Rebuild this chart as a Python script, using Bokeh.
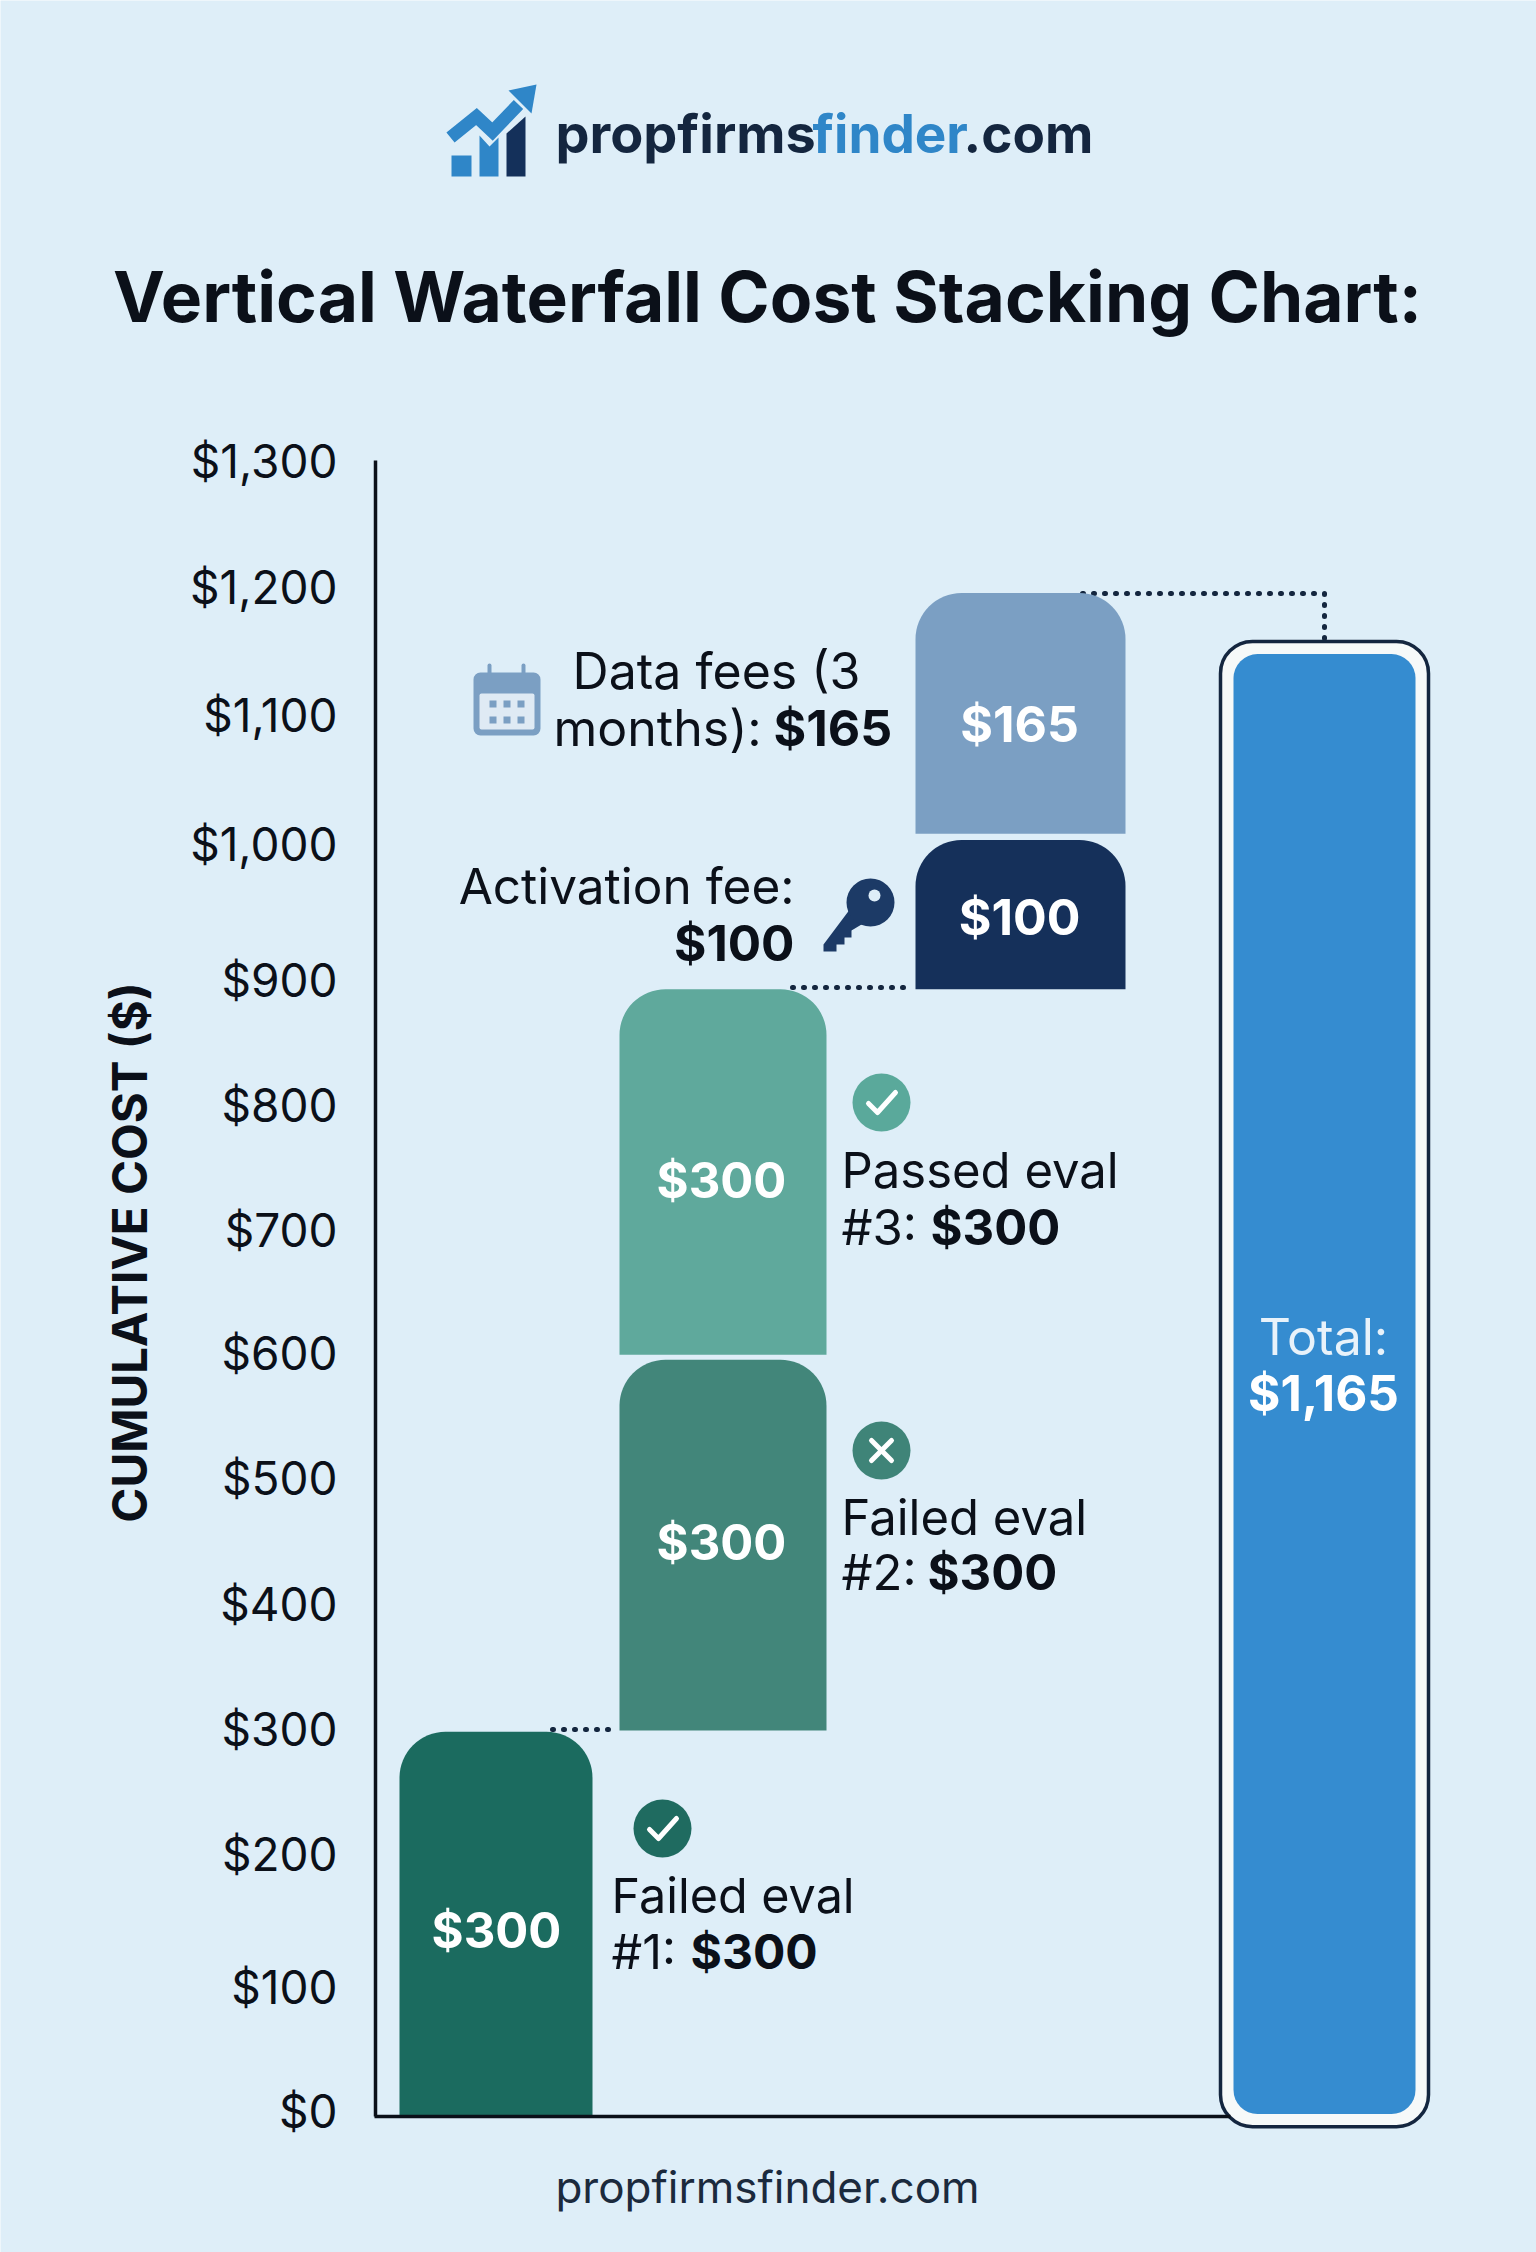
from bokeh.plotting import figure
from bokeh.embed import file_html
from bokeh.resources import INLINE
from bokeh.core.properties import value
from bokeh.models import Range1d, FixedTicker

# ---------- data ----------
categories = ["Failed eval #1", "Failed eval #2", "Passed eval #3", "Activation fee", "Data fees (3 months)"]
costs = [300, 300, 300, 100, 165]
bar_bottoms = [0, 303, 598, 885, 1007]
bar_tops = [302, 594, 885, 1002, 1196]
total_cost = 1165
total_inner = [2, 1148]
total_outer = [-8, 1158]
# the picture's tick labels are not evenly spaced: these are where each one sits on the scale
tick_values = [4, 102, 206, 304, 402, 501, 599, 696, 794, 892, 999, 1100, 1201, 1300]
tick_labels = ["$0", "$100", "$200", "$300", "$400", "$500", "$600", "$700", "$800", "$900",
               "$1,000", "$1,100", "$1,200", "$1,300"]

# ---------- layout ----------
W, H = 1536, 2252
BASE = 2116
K = 1656 / 1300
BG = "#deeef8"
INK = "#0b1019"
NAVY = "#14263f"
FONT = value("Inter")


def V(py):
    return (BASE - py) / K


bar_lefts = [399, 619, 619, 915, 915]
bar_rights = [592, 826, 826, 1125, 1125]
bar_colors = ["#1b6b5f", "#42867a", "#5fa99c", "#15305a", "#7b9fc3"]

p = figure(width=W, height=H, output_backend="svg", toolbar_location=None,
           x_range=Range1d(0, W), y_range=Range1d(V(H), V(0)),
           min_border=0, min_border_left=0, min_border_right=0, min_border_top=0, min_border_bottom=0,
           background_fill_color=BG, border_fill_color=BG, outline_line_color=None)
p.grid.visible = False

# axes
ya = p.yaxis[0]
ya.fixed_location = 375
ya.bounds = (0, 1300)
ya.ticker = FixedTicker(ticks=tick_values)
ya.major_label_overrides = {v: t for v, t in zip(tick_values, tick_labels)}
ya.major_tick_line_color = None
ya.minor_tick_line_color = None
ya.major_label_standoff = 32
ya.major_label_text_font = "Inter"
ya.major_label_text_font_size = "46px"
ya.major_label_text_color = INK
ya.axis_line_color = INK
ya.axis_line_width = 3.5

xa = p.xaxis[0]
xa.fixed_location = 0
xa.bounds = (374, 1230)
xa.ticker = FixedTicker(ticks=[])
xa.major_tick_line_color = None
xa.minor_tick_line_color = None
xa.major_label_text_font_size = "0px"
xa.axis_line_color = INK
xa.axis_line_width = 3.5


def txt(x, py, s, size, color=INK, style="normal", align="left", angle=0):
    p.text([x], [V(py)], text=[s], text_font=FONT, text_font_size=f"{size}px", text_font_style=style,
           text_color=color, text_align=align, text_baseline="middle", angle=angle)


def dots(xs, pys):
    p.line(xs, [V(y) for y in pys], line_color=NAVY, line_width=5, line_dash="1 10", line_cap="round")


# connectors
dots([552, 617], [1729, 1729])
dots([792, 912], [987, 987])
dots([1082, 1324, 1324], [593, 593, 641])

# bars
p.vbar(x=[(a + b) / 2 for a, b in zip(bar_lefts, bar_rights)],
       width=[b - a for a, b in zip(bar_lefts, bar_rights)],
       bottom=bar_bottoms, top=bar_tops, fill_color=bar_colors, line_color=None,
       border_radius=(46, 46, 0, 0))

# total bar
p.quad(left=[1220], right=[1428], bottom=[total_outer[0]], top=[total_outer[1]],
       fill_color="#f6f9f9", line_color=NAVY, line_width=3.5, border_radius=32)
p.quad(left=[1233], right=[1415], bottom=[total_inner[0]], top=[total_inner[1]],
       fill_color="#358cd0", line_color=None, border_radius=24)

# bar value labels
centers = [496, 721, 721, 1019, 1019]
value_py = [1930, 1542, 1180, 916, 723]
value_size = [49, 49, 49, 50, 50]
for cx, py, c, s in zip(centers, value_py, costs, value_size):
    txt(cx, py, f"${c}", s, "#ffffff", "bold", "center")
txt(1323, 1336, "Total:", 50, "#e8f2fa", "normal", "center")
txt(1323, 1392, f"${total_cost:,}", 49.5, "#ffffff", "bold", "center")

# annotations
txt(716, 670, "Data fees (3", 50, align="center")
txt(553, 727, "months):", 50)
txt(773, 727, "$165", 50, style="bold")
txt(794, 885, "Activation fee:", 49.5, align="right")
txt(794, 942, "$100", 49.5, style="bold", align="right")
txt(841, 1170, "Passed eval", 49)
txt(841, 1227, "#3:", 49)
txt(930, 1227, "$300", 49, style="bold")
txt(841, 1517, "Failed eval", 49)
txt(841, 1572, "#2:", 49)
txt(927, 1572, "$300", 49, style="bold")
txt(611, 1895, "Failed eval", 48.5)
txt(611, 1951, "#1:", 48.5)
txt(690, 1951, "$300", 48, style="bold")

# heading, logo text, footer, axis title
txt(767, 296, "Vertical Waterfall Cost Stacking Chart:", 69.5, style="bold", align="center")
txt(555, 133, "propfirms", 54, NAVY, "bold")
txt(812, 133, "finder", 53, "#2f86c8", "bold")
txt(963, 133, ".com", 53, NAVY, "bold")
txt(767, 2186, "propfirmsfinder.com", 44, "#1b2a3d", align="center")
txt(129, 1252, "CUMULATIVE COST ($)", 47.5, INK, "bold", "center", angle=1.5708)


# icons
def circ(cx, cy, r, color):
    p.circle([cx], [V(cy)], radius=r, radius_units="screen", fill_color=color, line_color=None)


def stroke(xs, ys, color="#ffffff", w=5):
    p.line(xs, [V(y) for y in ys], line_color=color, line_width=w, line_cap="round", line_join="round")


for cx, cy, col in [(662, 1828, "#1f6b60"), (881, 1102, "#5aa99b")]:
    circ(cx, cy, 29, col)
    stroke([cx - 13, cx - 4, cx + 14], [cy + 1, cy + 10, cy - 10])
circ(881, 1450, 29, "#3f8478")
stroke([871, 891], [1440, 1460])
stroke([891, 871], [1440, 1460])

# key
KEY = "#1c3a66"
p.patch([850, 823, 823, 836, 836, 844, 844, 851, 851, 876],
        [V(y) for y in [908, 944, 951, 951, 944, 944, 937, 937, 930, 915]], fill_color=KEY, line_color=None)
circ(870, 902, 24, KEY)
circ(874, 895, 6, BG)

# calendar
CAL = "#7b9fc3"
p.quad(left=[473], right=[540], bottom=[V(735)], top=[V(672)], fill_color=CAL, line_color=None, border_radius=7)
p.quad(left=[479], right=[534], bottom=[V(729)], top=[V(693)], fill_color="#dfeaf4", line_color=None, border_radius=2)
for yy in (700, 716):
    for xx in (489, 503, 517):
        p.quad(left=[xx], right=[xx + 7], bottom=[V(yy + 7)], top=[V(yy)], fill_color=CAL, line_color=None)
stroke([489, 489], [665, 677], CAL, 4)
stroke([523, 523], [665, 677], CAL, 4)

# logo
BLUE = "#2f86c8"
p.quad(left=[451], right=[471], bottom=[V(176)], top=[V(155)], fill_color=BLUE, line_color=None)
p.patch([479, 479, 489, 498, 498], [V(y) for y in [176, 135, 146, 137, 176]], fill_color=BLUE, line_color=None)
p.patch([506, 506, 525, 525], [V(y) for y in [176, 133, 116, 176]], fill_color="#14305a", line_color=None)
p.line([450, 476, 492, 518], [V(y) for y in [137, 116, 131, 104]], line_color=BLUE, line_width=13, line_join="miter")
p.patch([508, 536, 531], [V(y) for y in [90, 84, 113]], fill_color=BLUE, line_color=None)

open("out.html", "w").write(file_html(p, INLINE))
